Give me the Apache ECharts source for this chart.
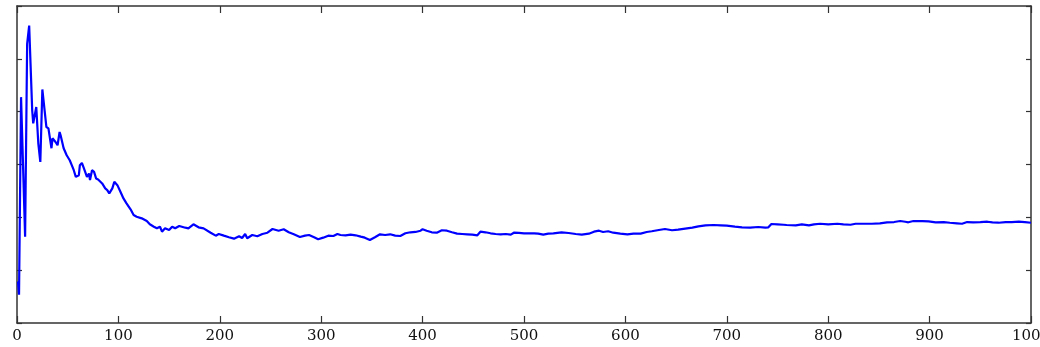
<!DOCTYPE html>
<html>
<head>
<meta charset="utf-8">
<script src="https://cdn.jsdelivr.net/npm/echarts@6/dist/echarts.min.js"></script>
<style>
  html, body { margin: 0; padding: 0; background: #fff; }
  #chart { width: 1040px; height: 347px; }
</style>
</head>
<body>
<div id="chart"></div>
<script>
// x positions (step number) and running values
const steps = [
  1, 2, 3, 4, 8, 10, 12, 15, 16, 19, 21, 23, 25, 29, 31, 34, 35, 38, 40, 42, 43,
  46, 49, 50, 52, 54, 56, 58, 61, 62, 64, 66, 69, 71, 72, 74, 76, 78, 80,
  84, 87, 89, 91, 94, 96, 99, 102, 105, 108, 112, 115, 118, 123, 128, 131,
  135, 138, 141, 143, 146, 150, 153, 156, 160, 166, 169, 174, 179, 184,
  191, 196, 199, 204, 209, 214, 219, 222, 225, 227, 232, 237, 242, 247,
  252, 258, 263, 268, 273, 279, 284, 288, 293, 297, 302, 307, 312, 316,
  319, 324, 329, 334, 339, 343, 348, 353, 358, 363, 368, 373, 378, 383,
  388, 393, 398, 400, 404, 409, 414, 419, 424, 429, 434, 439, 444, 449,
  454, 457, 462, 467, 472, 477, 482, 487, 490, 495, 500, 505, 510, 514,
  519, 524, 529, 537, 544, 551, 557, 564, 569, 574, 578, 583, 588, 595,
  602, 608, 615, 621, 626, 633, 639, 646, 652, 659, 666, 672, 679, 687,
  694, 700, 708, 715, 723, 731, 738, 741, 744, 750, 756, 759, 768, 774,
  781, 786, 792, 800, 809, 815, 822, 827, 835, 843, 851, 858, 865, 871,
  876, 879, 884, 893, 899, 906, 914, 920, 927, 932, 937, 943, 950, 957,
  962, 968, 975, 981, 988, 994, 1000
];
const values = [
  0.785, 0.534, 0.534, 4.275, 1.634, 5.283, 5.628, 4.025, 3.779, 4.087, 3.402, 3.049, 4.421, 3.709, 3.685, 3.308, 3.496, 3.426, 3.364, 3.615, 3.553,
  3.308, 3.175, 3.208, 3.081, 2.987, 2.892, 2.766, 2.798, 2.987, 3.030, 2.925, 2.766, 2.830, 2.704, 2.892, 2.860, 2.736, 2.717,
  2.642, 2.547, 2.515, 2.453, 2.547, 2.672, 2.609, 2.483, 2.358, 2.264, 2.151, 2.043, 2.011, 1.981, 1.930, 1.868,
  1.823, 1.792, 1.823, 1.728, 1.792, 1.760, 1.823, 1.792, 1.836, 1.804, 1.792, 1.868, 1.811, 1.792,
  1.709, 1.653, 1.685, 1.653, 1.623, 1.596, 1.642, 1.609, 1.685, 1.604, 1.666, 1.642, 1.685, 1.709,
  1.779, 1.747, 1.774, 1.717, 1.679, 1.628, 1.653, 1.666, 1.623, 1.585, 1.615, 1.653, 1.647, 1.685,
  1.666, 1.660, 1.672, 1.660, 1.634, 1.615, 1.572, 1.623, 1.679, 1.666, 1.679, 1.653, 1.647, 1.698,
  1.717, 1.723, 1.747, 1.774, 1.747, 1.717, 1.709, 1.755, 1.747, 1.717, 1.691, 1.685, 1.679, 1.672,
  1.660, 1.728, 1.717, 1.698, 1.685, 1.679, 1.685, 1.672, 1.709, 1.704, 1.698, 1.698, 1.698, 1.691,
  1.672, 1.691, 1.698, 1.717, 1.704, 1.685, 1.672, 1.691, 1.728, 1.747, 1.723, 1.736, 1.709, 1.691,
  1.679, 1.691, 1.691, 1.723, 1.736, 1.760, 1.779, 1.755, 1.766, 1.785, 1.804, 1.830, 1.849, 1.855,
  1.849, 1.842, 1.823, 1.811, 1.804, 1.817, 1.804, 1.811, 1.874, 1.868, 1.860, 1.855, 1.849, 1.868,
  1.849, 1.868, 1.879, 1.868, 1.879, 1.868, 1.860, 1.879, 1.879, 1.879, 1.887, 1.906, 1.911, 1.930,
  1.917, 1.906, 1.930, 1.930, 1.925, 1.906, 1.911, 1.898, 1.887, 1.879, 1.911, 1.906, 1.911, 1.917,
  1.906, 1.898, 1.911, 1.911, 1.917, 1.911, 1.898
];
const xTicks = [0, 100, 200, 300, 400, 500, 600, 700, 800, 900, 1000];

const chart = echarts.init(document.getElementById('chart'), null, { renderer: 'canvas' });

// every side of the frame is an axis line; onZero off so they stay on the edges
const frameLine = { show: true, onZero: false, lineStyle: { color: '#333', width: 1.5 } };
const tickStyle = { color: '#333', width: 1.2 };

const option = {
  animation: false,
  backgroundColor: '#fff',
  grid: { left: 17, right: 9, top: 6, bottom: 24, outerBoundsMode: 'none', containLabel: false },
  xAxis: [
    {
      type: 'value',
      position: 'bottom',
      min: xTicks[0],
      max: xTicks[xTicks.length - 1],
      interval: 100,
      axisLine: frameLine,
      axisTick: { show: true, inside: true, length: 7, lineStyle: tickStyle },
      axisLabel: {
        show: true,
        margin: 6,
        color: '#111',
        fontFamily: 'DejaVu Serif',
        fontSize: 15,
        showMinLabel: true,
        showMaxLabel: true,
        formatter: v => String(v)
      },
      splitLine: { show: false }
    },
    {
      type: 'value',
      position: 'top',
      min: 0,
      max: 1000,
      interval: 100,
      axisLine: frameLine,
      axisTick: { show: true, inside: true, length: 7, lineStyle: tickStyle },
      axisLabel: { show: false },
      splitLine: { show: false }
    }
  ],
  yAxis: [
    {
      type: 'value',
      position: 'left',
      min: 0,
      max: 6,
      interval: 1,
      axisLine: frameLine,
      axisTick: { show: true, inside: true, length: 5, lineStyle: tickStyle },
      axisLabel: { show: false },
      splitLine: { show: false }
    },
    {
      type: 'value',
      position: 'right',
      min: 0,
      max: 6,
      interval: 1,
      axisLine: frameLine,
      axisTick: { show: true, inside: true, length: 5, lineStyle: tickStyle },
      axisLabel: { show: false },
      splitLine: { show: false }
    }
  ],
  series: [
    {
      type: 'line',
      xAxisIndex: 0,
      yAxisIndex: 0,
      data: steps.map((s, i) => [s, values[i]]),
      showSymbol: false,
      lineStyle: { color: '#0000ff', width: 2.2 },
      itemStyle: { color: '#0000ff' }
    }
  ]
};

chart.setOption(option);
</script>
</body>
</html>
